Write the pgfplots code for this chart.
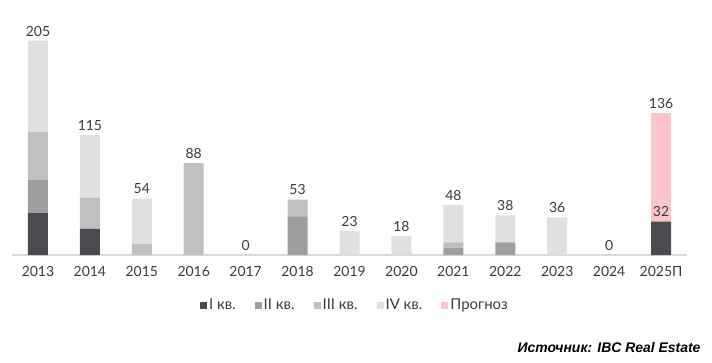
\documentclass[border=0pt]{standalone}
\usepackage{pgfplots}
\pgfplotsset{compat=1.18}
\usepackage{fontspec}
\setmainfont{Lato}
\newfontfamily\srcfont{Liberation Sans}
\definecolor{qa}{HTML}{4A4B4F}
\definecolor{qb}{HTML}{9D9EA0}
\definecolor{qc}{HTML}{C0C0C2}
\definecolor{qd}{HTML}{E0E0E2}
\definecolor{fc}{HTML}{FCC5C9}
\definecolor{axgray}{HTML}{DADADA}
\definecolor{txt}{HTML}{3A3A3A}
\newcommand{\lab}[2]{\node[txt, anchor=south, yshift=1bp] at (axis cs:#1,#2) {\fontsize{14}{16}\selectfont #2};}
\begin{document}
\begin{tikzpicture}
\begin{axis}[
  at={(0,0)}, anchor=south west,
  scale only axis, width=675bp, height=219.5bp,
  xmin=-0.5, xmax=12.5, ymin=0, ymax=210,
  ybar stacked, bar width=20bp,
  axis x line=bottom, hide y axis,
  x axis line style={draw=axgray, line width=1.2bp, -},
  xtick={0,1,2,3,4,5,6,7,8,9,10,11,12},
  xticklabels={2013,2014,2015,2016,2017,2018,2019,2020,2021,2022,2023,2024,2025П},
  major tick length=0pt,
  xticklabel style={font=\fontsize{14}{16}\selectfont, text=txt, yshift=-8bp},
  clip=false,
  legend columns=5,
  legend style={at={(0.508,-0.228)}, anchor=center, draw=none, fill=none,
    font=\fontsize{15}{17}\selectfont, text=txt,
    /tikz/every even column/.style={column sep=17bp}},
  legend image code/.code={\fill[#1] (0bp,-3.5bp) rectangle (7bp,3.5bp);},
]
\addplot[fill=qa, draw=none] coordinates {(0,40) (1,25) (2,0) (3,0) (4,0) (5,0) (6,0) (7,0) (8,0) (9,0) (10,0) (11,0) (12,32)};
\addlegendentry{I кв.}
\addplot[fill=qb, draw=none] coordinates {(0,32) (1,0) (2,0) (3,0) (4,0) (5,37) (6,0) (7,0) (8,7) (9,12) (10,0) (11,0) (12,0)};
\addlegendentry{II кв.}
\addplot[fill=qc, draw=none] coordinates {(0,46) (1,30) (2,11) (3,88) (4,0) (5,16) (6,0) (7,0) (8,5) (9,0) (10,0) (11,0) (12,0)};
\addlegendentry{III кв.}
\addplot[fill=qd, draw=none] coordinates {(0,87) (1,60) (2,43) (3,0) (4,0) (5,0) (6,23) (7,18) (8,36) (9,26) (10,36) (11,0) (12,0)};
\addlegendentry{IV кв.}
\addplot[fill=fc, draw=none] coordinates {(0,0) (1,0) (2,0) (3,0) (4,0) (5,0) (6,0) (7,0) (8,0) (9,0) (10,0) (11,0) (12,104)};
\addlegendentry{Прогноз}
\lab{0}{205}
\lab{1}{115}
\lab{2}{54}
\lab{3}{88}
\lab{4}{0}
\lab{5}{53}
\lab{6}{23}
\lab{7}{18}
\lab{8}{48}
\lab{9}{38}
\lab{10}{36}
\lab{11}{0}
\lab{12}{136}
\coordinate (q1f) at (axis cs:12,32);
\end{axis}
\node[txt, anchor=south, yshift=1bp] at (q1f) {\fontsize{14}{16}\selectfont 32};
\node[anchor=east, font=\srcfont\bfseries\itshape\fontsize{14}{16}\selectfont] at (692bp,-93bp) {Источник: IBC Real Estate};
\path (-12bp,-108bp) rectangle (700bp,255bp);
\end{tikzpicture}
\end{document}
